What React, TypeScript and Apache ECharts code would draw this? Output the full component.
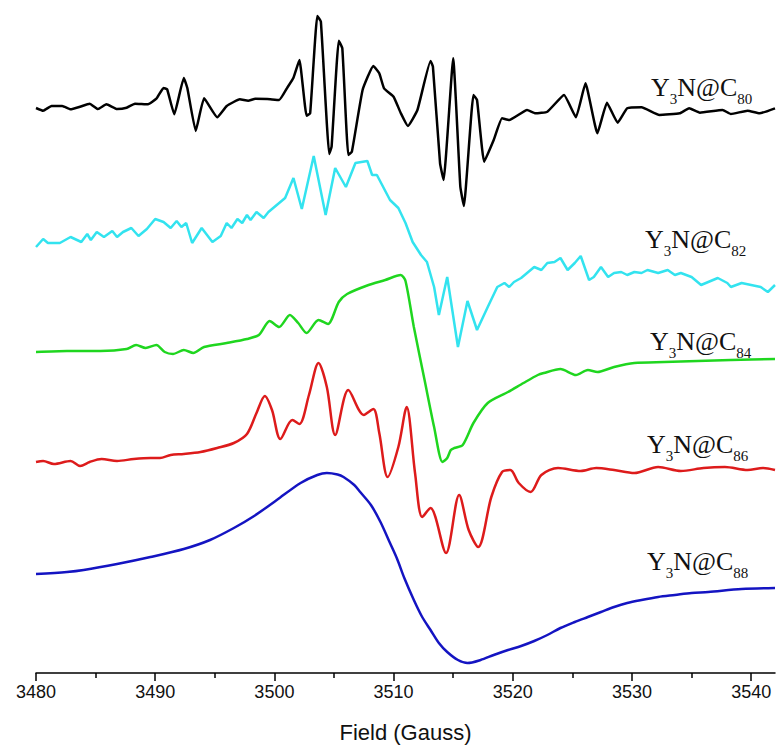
import React, { useEffect, useRef } from 'react';
import * as echarts from 'echarts';

// Field axis (Gauss)
const X_MIN = 3480;
const X_MAX = 3542;
const MAJOR_TICKS = [3480, 3490, 3500, 3510, 3520, 3530, 3540];
const MINOR_TICKS = [3485, 3495, 3505, 3515, 3525, 3535];

// EPR derivative signals [field (G), intensity (a.u.)], relative to each trace's baseline
const c80: [number, number][] = [
  [3480.0, 0], [3480.6, -2.7], [3481.3, 2], [3482.2, 2], [3482.9, -1.3], [3483.7, 1.3], [3484.5, 4.3],
  [3485.2, -1], [3485.9, 3.7], [3486.8, -1], [3487.6, 0.3], [3488.3, 4.3], [3489.4, 3.7], [3490.1, 9.3],
  [3490.7, 20], [3491.0, 18.7], [3491.6, -6.3], [3492.4, 30], [3492.7, 19.7], [3493.4, -23], [3494.1, 9.7],
  [3495.2, -9.3], [3496.0, 2], [3497.1, 8.7], [3497.8, 7.3], [3498.4, 9.3], [3499.4, 9], [3500.4, 8],
  [3501.1, 20.7], [3501.6, 30.3], [3502.1, 48], [3502.7, -7.7], [3503.0, -5.3], [3503.6, 92], [3503.9, 86.3],
  [3504.6, -46], [3504.8, -38.7], [3505.4, 67.3], [3505.7, 59.7], [3506.2, -47], [3506.5, -43.7], [3507.4, 18],
  [3508.3, 42], [3508.8, 34.7], [3509.2, 19.7], [3510.0, 11.3], [3510.6, -5], [3511.2, -18], [3512.0, -2],
  [3513.1, 47], [3513.3, 41.3], [3513.9, -55.3], [3514.2, -72], [3515.0, 49.7], [3515.6, -78.7], [3515.9, -98],
  [3516.7, 13], [3517.0, 8], [3517.6, -53.7], [3518.4, -32], [3519.1, -10.3], [3519.7, -12], [3521.2, -2],
  [3521.9, -5.3], [3522.9, -3.7], [3524.3, 13], [3525.3, -9.3], [3526.1, 24.7], [3527.1, -25.3], [3527.9, 5.3],
  [3528.8, -14.7], [3529.6, -0.3], [3530.8, 0.7], [3532.3, -7], [3534.0, -5.3], [3534.8, -0.3], [3535.7, -4.7],
  [3537.6, -2], [3538.3, -6], [3539.7, -2.7], [3540.7, -5.3], [3542.0, -0.3],
];

const c82: [number, number][] = [
  [3480.0, 0], [3480.6, 8], [3481.0, 4], [3482.0, 4], [3482.9, 10], [3483.8, 5], [3484.3, 13], [3484.6, 7],
  [3485.1, 15], [3485.7, 10], [3486.4, 16], [3486.8, 10], [3487.3, 15], [3488.0, 19], [3488.6, 11], [3489.3, 18],
  [3490.0, 28], [3490.7, 25], [3491.3, 19], [3491.8, 26], [3492.2, 20], [3492.6, 24], [3493.1, 4], [3493.9, 19],
  [3494.8, 5], [3495.5, 11], [3496.0, 24], [3496.4, 19], [3496.9, 28], [3497.3, 24], [3497.7, 32], [3498.0, 27],
  [3498.5, 35], [3499.1, 29], [3499.5, 35], [3500.2, 42], [3500.9, 49], [3501.6, 69], [3502.3, 38], [3503.3, 91],
  [3504.3, 32], [3505.1, 79], [3506.0, 60], [3506.8, 84], [3507.8, 86], [3508.2, 72], [3508.6, 72], [3509.7, 47],
  [3510.4, 39], [3511.0, 24], [3511.6, 5], [3512.3, -8], [3512.8, -15], [3513.4, -40], [3513.8, -68], [3514.5, -30],
  [3515.4, -100], [3516.2, -54], [3517.0, -83], [3517.9, -60], [3518.7, -40], [3519.3, -36], [3519.7, -40],
  [3520.1, -35], [3520.7, -31], [3521.2, -26], [3521.8, -20], [3522.4, -23], [3522.9, -16], [3523.5, -15],
  [3524.0, -11], [3524.6, -23], [3525.2, -16], [3525.7, -9], [3526.4, -33], [3526.8, -30], [3527.4, -20],
  [3528.0, -30], [3528.5, -26], [3529.1, -25], [3529.6, -28], [3530.2, -25], [3530.8, -26], [3531.3, -23],
  [3532.2, -26], [3533.0, -23], [3533.6, -28], [3534.1, -26], [3535.0, -30], [3535.8, -38], [3536.4, -35],
  [3537.2, -31], [3538.0, -36], [3538.3, -40], [3539.2, -36], [3540.0, -38], [3540.8, -40], [3541.4, -45],
  [3542.0, -38],
];

const c84: [number, number][] = [
  [3480.0, 0], [3482.6, 1], [3485.4, 1], [3487.6, 3], [3488.4, 7], [3489.2, 4], [3490.1, 7], [3490.8, 0],
  [3491.5, -2], [3492.4, 2], [3493.2, -1], [3494.1, 5], [3496.0, 9], [3497.7, 13], [3498.7, 17], [3499.6, 31],
  [3500.4, 25], [3501.3, 37], [3502.0, 29], [3502.7, 19], [3503.7, 32], [3504.5, 28], [3505.4, 50], [3506.1, 58],
  [3507.9, 67], [3509.3, 72], [3510.6, 77], [3511.0, 71], [3511.7, 25], [3512.6, -28], [3513.4, -75],
  [3514.1, -110], [3514.5, -106], [3514.8, -98], [3515.1, -96], [3515.8, -93], [3516.7, -71], [3517.9, -51],
  [3519.6, -40], [3520.9, -31], [3522.1, -23], [3522.6, -21], [3524.0, -17], [3525.3, -23], [3526.3, -18],
  [3527.1, -20], [3528.5, -15], [3530.2, -11], [3532.7, -10], [3535.5, -9], [3538.3, -8], [3542.0, -7],
];

const c86: [number, number][] = [
  [3480.0, 0], [3480.6, 1], [3481.5, -2], [3482.9, 1], [3483.7, -4], [3484.5, 0], [3485.5, 3], [3486.8, 1],
  [3488.2, 3], [3489.6, 4], [3490.4, 4], [3491.3, 7], [3492.4, 8], [3493.8, 10], [3495.2, 14], [3496.6, 19],
  [3497.7, 28], [3498.5, 49], [3499.2, 66], [3499.8, 52], [3500.5, 23], [3501.5, 42], [3502.1, 38], [3502.9, 67],
  [3503.7, 99], [3504.4, 75], [3505.1, 27], [3506.2, 72], [3507.5, 47], [3508.3, 53], [3508.8, 29], [3509.5, -15],
  [3510.4, 15], [3511.1, 55], [3511.8, -11], [3512.4, -55], [3513.1, -46], [3514.4, -91], [3515.5, -33],
  [3516.3, -68], [3517.1, -85], [3518.2, -35], [3519.1, -10], [3519.8, -8], [3520.5, -21], [3521.5, -30],
  [3522.4, -13], [3523.8, -6], [3525.7, -9], [3527.0, -6], [3528.5, -8], [3530.2, -11], [3532.2, -5],
  [3534.1, -9], [3536.0, -6], [3537.8, -5], [3539.7, -8], [3541.0, -6], [3542.0, -8],
];

const c88: [number, number][] = [
  [3480.0, 0], [3482.6, 2], [3484.0, 4], [3486.8, 10], [3489.6, 17], [3492.4, 25], [3494.6, 34], [3496.6, 46],
  [3498.3, 58], [3500.2, 74], [3502.2, 91], [3503.6, 99], [3504.4, 101], [3505.3, 99.5],
  [3505.8, 97], [3506.7, 89], [3507.2, 82], [3508.1, 69], [3508.9, 52], [3509.7, 31], [3510.3, 15], [3510.9, -4],
  [3511.7, -26], [3512.4, -43], [3513.1, -56], [3513.8, -69], [3514.5, -78], [3515.4, -86], [3516.2, -89],
  [3517.3, -86], [3518.4, -81], [3519.6, -76], [3520.7, -72], [3521.8, -67], [3522.9, -61], [3524.0, -54],
  [3525.2, -48], [3526.3, -43], [3527.4, -38], [3528.5, -33], [3529.6, -29], [3530.8, -26], [3532.2, -23],
  [3533.6, -21], [3535.0, -19], [3536.4, -18], [3539.2, -15], [3542.0, -14],
];

const TRACES = [c80, c82, c84, c86, c88];
const BASELINES = [565, 426, 321, 211, 99];
const CAGES = ['80', '82', '84', '86', '88'];
const COLORS = ['#000000', '#33e3ef', '#1fd61f', '#dd1b1b', '#1414c2'];
const SMOOTH = [0.12, 0, 0.25, 0.3, 0.3];

// label anchor: left x and text baseline (px)
const LABEL_POS: [number, number][] = [[651, 96], [645, 248], [650, 350], [647, 453], [647, 570]];

const MAIN_FS = 26;
const SUB_FS = 15;
const SERIF = "'Liberation Serif', 'Times New Roman', serif";
const SANS = "'Liberation Sans', Arial, sans-serif";

function measure(text: string, size: number): number {
  const c = document.createElement('canvas').getContext('2d');
  if (!c) return text.length * size * 0.6;
  c.font = `${size}px ${SERIF}`;
  return c.measureText(text).width;
}

function labelGraphic(cage: string, x: number, base: number) {
  const parts: { t: string; sub: boolean }[] = [
    { t: 'Y', sub: false },
    { t: '3', sub: true },
    { t: 'N@C', sub: false },
    { t: cage, sub: true },
  ];
  let cx = x;
  const children: any[] = [];
  for (const p of parts) {
    const fs = p.sub ? SUB_FS : MAIN_FS;
    const yMid = p.sub ? base + 8 - 0.34 * SUB_FS : base - 0.34 * MAIN_FS;
    children.push({
      type: 'text',
      x: cx,
      y: yMid,
      style: {
        text: p.t,
        fontSize: fs,
        fontFamily: SERIF,
        fill: '#111',
        align: 'left',
        verticalAlign: 'middle',
      },
    });
    cx += measure(p.t, fs);
  }
  return { type: 'group', children };
}

export default function App() {
  const ref = useRef<HTMLDivElement>(null);
  useEffect(() => {
    if (!ref.current) return;
    const chart = echarts.init(ref.current, undefined, { renderer: 'svg' });
    const axisColor = '#000';
    chart.setOption({
      animation: false,
      backgroundColor: '#fff',
      grid: { left: 36, right: 5, top: 0, bottom: 76 },
      xAxis: [
        {
          type: 'value',
          min: X_MIN,
          max: X_MAX,
          position: 'bottom',
          axisLine: { lineStyle: { color: axisColor, width: 1.5 } },
          axisTick: { customValues: MAJOR_TICKS, length: 8, lineStyle: { color: axisColor, width: 1.5 } },
          axisLabel: {
            customValues: MAJOR_TICKS,
            formatter: (v: number) => String(v),
            fontSize: 18,
            fontFamily: SANS,
            color: '#111',
            margin: 10,
          },
          splitLine: { show: false },
          name: 'Field (Gauss)',
          nameLocation: 'middle',
          nameGap: 48,
          nameTextStyle: { fontSize: 22, fontFamily: SANS, color: '#111' },
        },
        {
          type: 'value',
          min: X_MIN,
          max: X_MAX,
          position: 'bottom',
          offset: 0,
          axisLine: { show: false },
          axisTick: { customValues: MINOR_TICKS, length: 5, lineStyle: { color: axisColor, width: 1.5 } },
          axisLabel: { show: false },
          splitLine: { show: false },
        },
      ],
      yAxis: { type: 'value', min: 0, max: 673, show: false },
      series: TRACES.map((tr, i) => ({
        type: 'line',
        xAxisIndex: 0,
        data: tr.map(([x, v]) => [x, v + BASELINES[i]]),
        showSymbol: false,
        smooth: SMOOTH[i],
        lineStyle: { color: COLORS[i], width: 2.5 },
        itemStyle: { color: COLORS[i] },
        clip: false,
      })),
      graphic: CAGES.map((c, i) => labelGraphic(c, LABEL_POS[i][0], LABEL_POS[i][1])),
    });
    return () => chart.dispose();
  }, []);
  return <div ref={ref} style={{ position: 'fixed', left: 0, top: 0, width: 780, height: 749 }} />;
}
